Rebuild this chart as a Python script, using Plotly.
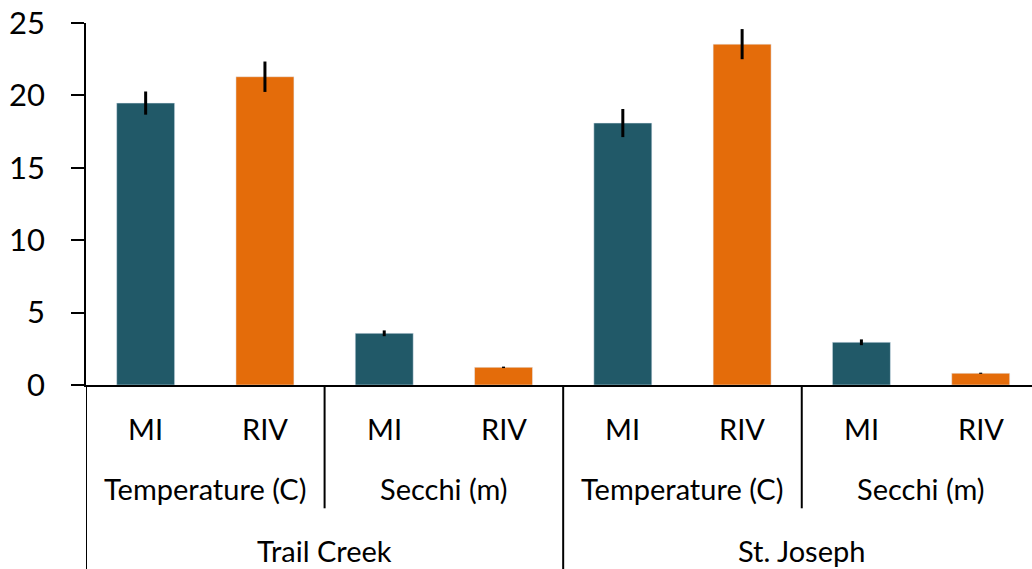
import plotly.graph_objects as go

sites = ["Trail Creek", "St. Joseph"]
variables = ["Temperature (C)", "Secchi (m)"]
groups = ["MI", "RIV"]

# values per (site, variable) in order: TC-Temp, TC-Secchi, SJ-Temp, SJ-Secchi
mi_means = [19.47, 3.57, 18.09, 2.95]
mi_err = [0.80, 0.20, 0.97, 0.20]
riv_means = [21.29, 1.22, 23.54, 0.81]
riv_err = [1.05, 0.05, 1.04, 0.04]

y_ticks = [0, 5, 10, 15, 20, 25]

TEAL = "#215968"
ORANGE = "#E46C0A"
FONT = "Lato"

cats = []
for s in sites:
    for v in variables:
        for g in groups:
            cats.append(f"{s}|{v}|{g}")

mi_x = [c for c in cats if c.endswith("|MI")]
riv_x = [c for c in cats if c.endswith("|RIV")]

fig = go.Figure()
fig.add_trace(go.Bar(x=mi_x, y=mi_means, marker_color=TEAL, width=0.486, name="MI",
                     error_y=dict(type="data", array=mi_err, color="black", thickness=3, width=0)))
fig.add_trace(go.Bar(x=riv_x, y=riv_means, marker_color=ORANGE, width=0.486, name="RIV",
                     error_y=dict(type="data", array=riv_err, color="black", thickness=3, width=0)))

annotations = []
shapes = []
y_lvl1, y_lvl2, y_lvl3 = -0.1196, -0.2854, -0.4567
short_bottom, long_bottom = -0.3406, -0.52

for i, c in enumerate(cats):
    annotations.append(dict(x=i, y=y_lvl1, xref="x", yref="paper", text=c.split("|")[2],
                            showarrow=False, font=dict(family=FONT, size=29, color="black"),
                            xanchor="center", yanchor="middle"))
nv = len(groups)
for j in range(len(sites) * len(variables)):
    v = variables[j % len(variables)]
    annotations.append(dict(x=j * nv + (nv - 1) / 2, y=y_lvl2, xref="x", yref="paper", text=v,
                            showarrow=False, font=dict(family=FONT, size=29, color="black"),
                            xanchor="center", yanchor="middle"))
    shapes.append(dict(type="line", xref="x", yref="paper", x0=j * nv - 0.5, x1=j * nv - 0.5,
                       y0=0, y1=(long_bottom if j % len(variables) == 0 else short_bottom),
                       line=dict(color="black", width=2)))
span = nv * len(variables)
for k, s in enumerate(sites):
    annotations.append(dict(x=k * span + (span - 1) / 2, y=y_lvl3, xref="x", yref="paper", text=s,
                            showarrow=False, font=dict(family=FONT, size=29, color="black"),
                            xanchor="center", yanchor="middle"))

fig.update_layout(
    width=1032, height=569,
    margin=dict(l=86, r=0, t=23, b=184),
    paper_bgcolor="white", plot_bgcolor="white",
    showlegend=False, barmode="overlay",
    annotations=annotations, shapes=shapes,
    xaxis=dict(type="category", categoryorder="array", categoryarray=cats,
               range=[-0.5, 7.43], showticklabels=False, ticks="",
               showline=True, linecolor="black", linewidth=2, showgrid=False, zeroline=False),
    yaxis=dict(range=[0, 25], tickvals=y_ticks, ticks="outside", ticklen=13, tickwidth=1.5,
               tickcolor="black", showline=True, linecolor="black", linewidth=1.5,
               showgrid=False, zeroline=False, ticklabelstandoff=20,
               tickfont=dict(family=FONT, size=31, color="black")),
)

fig.write_html("out.html")
